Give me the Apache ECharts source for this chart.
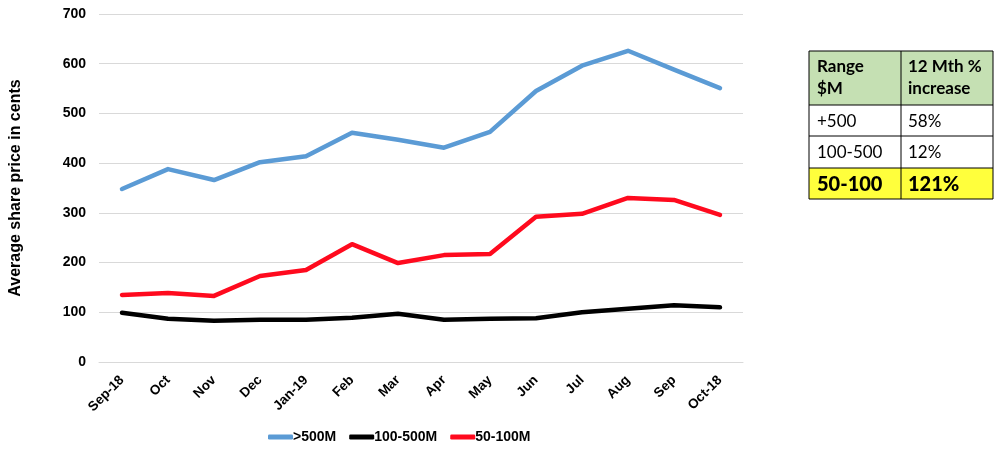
<!DOCTYPE html>
<html><head><meta charset="utf-8">
<script src="https://cdn.jsdelivr.net/npm/echarts@6/dist/echarts.min.js"></script>
<style>html,body{margin:0;padding:0;background:#fff}#c{width:1003px;height:458px}</style>
</head><body><div id="c"></div>
<script>
const categories = ['Sep-18','Oct','Nov','Dec','Jan-19','Feb','Mar','Apr','May','Jun','Jul','Aug','Sep','Oct-18'];
const over500 = [348,388,366,402,414,461,447,431,463,545,596,626,588,551];
const mid100to500 = [99,87,83,85,85,89,97,85,87,88,100,107,114,110];
const low50to100 = [135,139,133,173,185,237,199,215,217,292,298,330,326,296];
const seriesNames = ['>500M','100-500M','50-100M'];
const tableHeader = [['Range','$M'],['12 Mth %','increase']];
const tableRows = [['+500','58%'],['100-500','12%'],['50-100','121%']];

const chart = echarts.init(document.getElementById('c'));
const F = 'Liberation Sans, Arial, sans-serif';
const TF = 'Lato, sans-serif';

const tx = 809, tc = 901, tr = 993;
const rowsY = [51, 105, 136, 168, 199];
const g = [];
g.push({type:'rect', shape:{x:tx,y:rowsY[0],width:tr-tx,height:rowsY[1]-rowsY[0]}, style:{fill:'#c5e0b3'}});
g.push({type:'rect', shape:{x:tx,y:rowsY[3],width:tr-tx,height:rowsY[4]-rowsY[3]}, style:{fill:'#ffff3c'}});
g.push({type:'rect', shape:{x:tx,y:rowsY[0],width:tr-tx,height:rowsY[4]-rowsY[0]}, style:{fill:'none',stroke:'#000',lineWidth:1}});
for (let i=1;i<4;i++) g.push({type:'line', shape:{x1:tx,y1:rowsY[i],x2:tr,y2:rowsY[i]}, style:{stroke:'#000',lineWidth:1}});
g.push({type:'line', shape:{x1:tc,y1:rowsY[0],x2:tc,y2:rowsY[4]}, style:{stroke:'#000',lineWidth:1}});
g.push({type:'text', left:tx+8, top:rowsY[0]+5, style:{text:tableHeader[0].join('\n'), font:'bold 17px '+TF, fill:'#000', lineHeight:22}});
g.push({type:'text', left:tc+7, top:rowsY[0]+5, style:{text:tableHeader[1].join('\n'), font:'bold 17px '+TF, fill:'#000', lineHeight:22}});
tableRows.forEach((r,i)=>{
  const bold = i===2;
  const font = (bold?'900 20px ':'17px ')+TF;
  const y = (rowsY[i+1]+rowsY[i+2])/2 + 1;
  g.push({type:'text', x:tx+8, y:y, style:{text:r[0], font:font, fill:'#000', verticalAlign:'middle'}});
  g.push({type:'text', x:tc+7, y:y, style:{text:r[1], font:font, fill:'#000', verticalAlign:'middle'}});
});

const colors = ['#5b9bd5','#000000','#ff0a1e'];
const datas = [over500, mid100to500, low50to100];

chart.setOption({
  animation:false,
  color: colors,
  grid:{left:94, right:260, top:14, bottom:96},
  legend:{
    data: seriesNames, bottom:9, left:263,
    itemWidth:25, itemHeight:5, itemGap:13,
    icon:'roundRect',
    textStyle:{fontFamily:F, fontWeight:'bold', fontSize:14, color:'#000', padding:[0,0,0,-5]}
  },
  xAxis:{
    type:'category', data:categories, boundaryGap:true,
    axisLine:{lineStyle:{color:'#d9d9d9'}}, axisTick:{show:false},
    axisLabel:{rotate:45, fontFamily:F, fontWeight:'bold', fontSize:13.5, color:'#000', margin:16, interval:0}
  },
  yAxis:{
    type:'value', min:0, max:700, interval:100,
    name:'Average share price in cents', nameLocation:'middle', nameGap:75, nameRotate:90,
    nameTextStyle:{fontFamily:F, fontWeight:'bold', fontSize:16, color:'#000'},
    axisLine:{show:false}, axisTick:{show:false},
    axisLabel:{fontFamily:F, fontWeight:'bold', fontSize:14, color:'#000', margin:13},
    splitLine:{lineStyle:{color:'#d9d9d9', width:1}}
  },
  series: datas.map((d,i)=>({
    name: seriesNames[i], type:'line', data:d, symbol:'none',
    lineStyle:{width:4.5, color:colors[i], cap:'round', join:'round'},
    z: i===0?3:2
  })),
  graphic: g
});
</script></body></html>
